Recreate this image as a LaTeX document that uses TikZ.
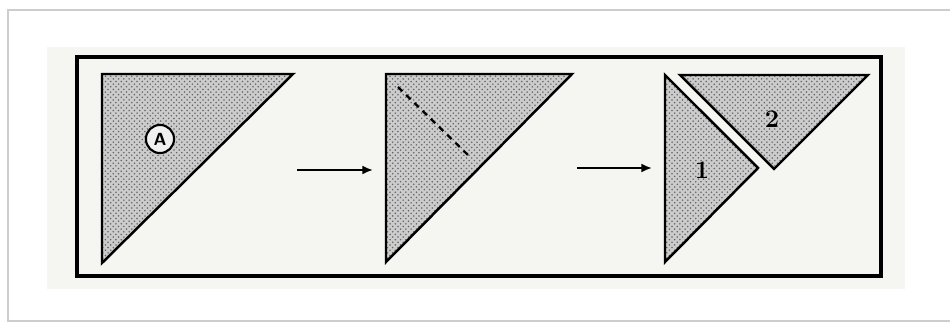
\documentclass[tikz,border=0pt]{standalone}
\usepackage{tikz}
\usetikzlibrary{arrows.meta, patterns, positioning}
\definecolor{FrameGray}{RGB}{205,205,205}
\definecolor{PageTint}{RGB}{245,245,242}

\begin{document}
\begin{tikzpicture}[x=0.02cm, y=-0.02cm,
  paper/.style={draw=black, line width=1.4pt, line join=miter,
                preaction={fill=black!20}, pattern=crosshatch dots,
                pattern color=black!60},
  foldarrow/.style={-{Latex[length=6pt,width=5pt]}, line width=1.1pt},
  crease/.style={dash pattern=on 3.5pt off 3pt, line width=1.3pt},
  num/.style={font=\Large\bfseries, inner sep=0pt}]
  \def\gap{15} % shift of the cut-off piece

  % screen frame and scanned page
  \useasboundingbox (0,0) rectangle (950,324);
  \draw[FrameGray, line width=1pt] (960,10) -- (8,10) -- (8,321) -- (960,321);
  \fill[PageTint] (47,47) rectangle (905,289);
  \draw[line width=2.4pt] (77,57) rectangle (881,276);

  % step 1: folded sheet with mark
  \draw[paper] (102,74) -- (293,74) -- (102,263) -- cycle;
  \node[circle, draw, line width=1.2pt, minimum size=16pt, inner sep=0pt,
        fill=black!6, font=\sffamily\bfseries] (mark) at (160,139) {A};

  % step 2: crease from corner towards long edge
  \draw[paper] (386,74) -- (572,74) -- (386,262) -- cycle;
  \coordinate (creaseA) at (398,87);
  \coordinate (creaseB) at (470,157);
  \draw[crease] (creaseA) -- (creaseB);

  % step 3: cut into two pieces
  \draw[paper] (665,75) -- (758,168) -- (665,262) -- cycle;
  \draw[paper] (665+\gap,75) -- (868,75) -- (759+\gap,169) -- cycle;
  \node[num] (piece1) at (702,170) {1};
  \node[num] (piece2) at (772,119) {2};

  % arrows between steps
  \coordinate (arrA) at (297,170);
  \coordinate (arrB) at (373,170);
  \coordinate (arrC) at (577,168);
  \coordinate (arrD) at (652,168);
  \draw[foldarrow] (arrA) -- (arrB);
  \draw[foldarrow] (arrC) -- (arrD);
\end{tikzpicture}
\end{document}
